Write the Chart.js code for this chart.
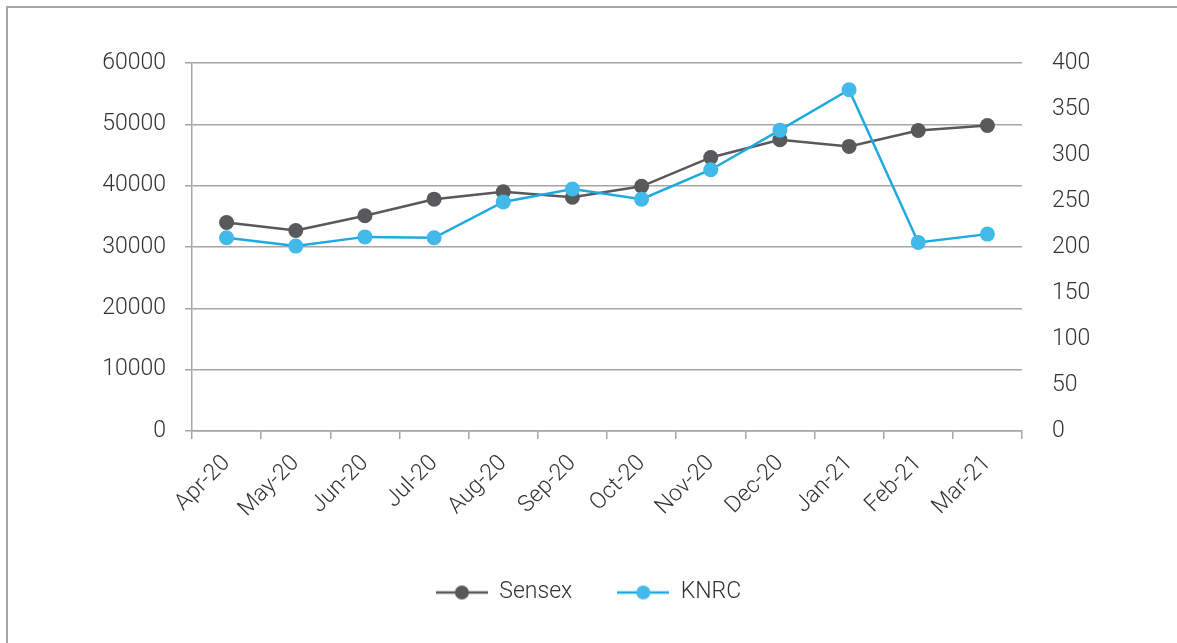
<!DOCTYPE html>
<html>
<head>
<meta charset="utf-8">
<script src="https://cdn.jsdelivr.net/npm/chart.js@4/dist/chart.umd.min.js"></script>
<style>
  html, body { margin: 0; padding: 0; background: #fff; overflow: hidden; }
  #frame { position: absolute; left: 6px; top: 6px; width: 1300px; height: 800px;
           border-left: 2px solid #a6a6a6; border-top: 2px solid #a6a6a6; }
  #wrap { position: absolute; left: 0; top: 0; width: 1177px; height: 643px; }
</style>
</head>
<body>
<div id="frame"></div>
<div id="wrap"><canvas id="chart"></canvas></div>
<script>
// chart data
const months = ['Apr-20', 'May-20', 'Jun-20', 'Jul-20', 'Aug-20', 'Sep-20',
                'Oct-20', 'Nov-20', 'Dec-20', 'Jan-21', 'Feb-21', 'Mar-21'];
const sensex = [34000, 32700, 35100, 37800, 39000, 38100, 39900, 44600, 47500, 46400, 49000, 49800];
const knrc = [210, 201, 211, 210, 249, 263, 252, 284, 327, 371, 205, 214];

const grey = '#58595b';
const blue = '#41bae9';
const blueLine = '#1eaae0';
const gridColor = '#a6a6a6';
const textColor = '#333333';
const font = { family: 'Roboto', size: 23, weight: 300 };

// legend marker: short line with a dot in the middle
function legendMarker(lineColor, dotColor) {
    const c = document.createElement('canvas');
    c.width = 52; c.height = 16;
    const g = c.getContext('2d');
    g.strokeStyle = lineColor;
    g.lineWidth = 2.5;
    g.beginPath(); g.moveTo(0, 8); g.lineTo(52, 8); g.stroke();
    g.fillStyle = dotColor;
    g.beginPath(); g.arc(26, 8, 7, 0, Math.PI * 2); g.fill();
    return c;
}

const ctx = document.getElementById('chart').getContext('2d');

new Chart(ctx, {
    type: 'line',
    data: {
        labels: months,
        datasets: [{
            label: 'Sensex',
            data: sensex,
            yAxisID: 'y',
            borderColor: grey,
            backgroundColor: grey,
            pointBackgroundColor: grey,
            borderWidth: 2.5,
            pointRadius: 7.5,
            pointBorderWidth: 0,
            order: 1,
            marker: legendMarker(grey, grey)
        }, {
            label: 'KNRC',
            data: knrc,
            yAxisID: 'y1',
            borderColor: blueLine,
            backgroundColor: blue,
            pointBackgroundColor: blue,
            borderWidth: 2.5,
            pointRadius: 7.5,
            pointBorderWidth: 0,
            order: 0,
            marker: legendMarker(blueLine, blue)
        }]
    },
    options: {
        responsive: true,
        maintainAspectRatio: false,
        animation: false,
        layout: { padding: { top: 63, left: 0, right: 0, bottom: 29 } },
        plugins: {
            tooltip: { enabled: false },
            legend: {
                position: 'bottom',
                labels: {
                    color: textColor,
                    font: font,
                    usePointStyle: true,
                    pointStyleWidth: 52,
                    padding: 45,
                    generateLabels: (chart) => chart.data.datasets.map((ds, i) => ({
                        text: ds.label,
                        pointStyle: ds.marker,
                        fillStyle: ds.backgroundColor,
                        strokeStyle: ds.borderColor,
                        lineWidth: 0,
                        fontColor: textColor,
                        datasetIndex: i
                    }))
                }
            }
        },
        scales: {
            x: {
                offset: true,
                grid: { drawOnChartArea: false, drawTicks: true, tickLength: 8, color: gridColor, lineWidth: 1.5, offset: true },
                border: { color: gridColor, width: 1.5 },
                ticks: { color: textColor, font: font, minRotation: 45, maxRotation: 45, padding: 11 },
                afterFit: (scale) => { scale.height = 105; }
            },
            y: {
                position: 'left',
                min: 0,
                max: 60000,
                grid: { color: gridColor, lineWidth: 1.5, tickLength: 7 },
                border: { color: gridColor, width: 1.5 },
                ticks: { stepSize: 10000, color: textColor, font: font, padding: 19, callback: (v) => String(v) },
                afterFit: (scale) => { scale.width = 192; }
            },
            y1: {
                position: 'right',
                min: 0,
                max: 400,
                grid: { display: false, drawTicks: false },
                border: { display: false },
                ticks: { stepSize: 50, color: textColor, font: font, padding: 30 },
                afterFit: (scale) => { scale.width = 155; }
            }
        }
    }
});
</script>
</body>
</html>
